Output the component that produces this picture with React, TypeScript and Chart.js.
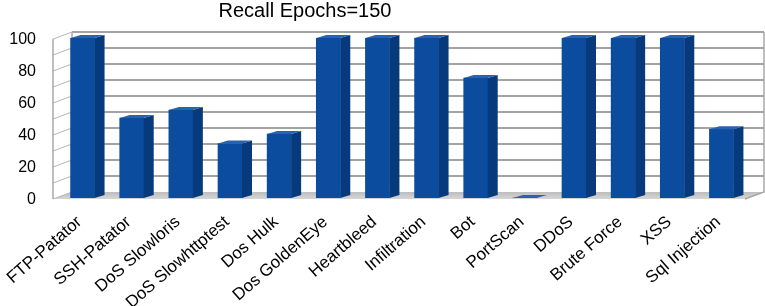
import React, { useEffect, useRef } from "react";
import { Chart, registerables } from "chart.js";

Chart.register(...registerables);

const TITLE = "Recall Epochs=150";
const categories = [
  "FTP-Patator",
  "SSH-Patator",
  "DoS Slowloris",
  "DoS Slowhttptest",
  "Dos Hulk",
  "Dos GoldenEye",
  "Heartbleed",
  "Infiltration",
  "Bot",
  "PortScan",
  "DDoS",
  "Brute Force",
  "XSS",
  "Sql Injection",
];
const recall = [100, 50, 55, 34, 40, 100, 100, 100, 75, 0, 100, 100, 100, 43];
const gridValues = [0, 10, 20, 30, 40, 50, 60, 70, 80, 90, 100];

const FONT = "'Liberation Sans', Arial, sans-serif";

const threeD = {
  id: "threeD",
  beforeDatasetsDraw(chart: any) {
    const { ctx, chartArea, scales } = chart;
    const y = scales.y;
    const fl = chartArea.left - 5;
    const fr = chartArea.right - 1;
    const dx = 19;
    const dy = 7;
    const fy = (v: number) => y.getPixelForValue(v) + 1;
    ctx.save();
    // floor
    const g = ctx.createLinearGradient(0, fy(0) - dy, 0, fy(0));
    g.addColorStop(0, "#bdbdbd");
    g.addColorStop(1, "#d6d6d6");
    ctx.fillStyle = g;
    ctx.beginPath();
    ctx.moveTo(fl, fy(0));
    ctx.lineTo(fl + dx, fy(0) - dy);
    ctx.lineTo(fr + dx, fy(0) - dy);
    ctx.lineTo(fr, fy(0));
    ctx.closePath();
    ctx.fill();
    // back wall grid lines
    ctx.strokeStyle = "#a3a3a3";
    ctx.lineWidth = 2;
    gridValues.forEach((v) => {
      if (v === 0) return;
      const by = Math.round(fy(v) - dy);
      ctx.beginPath();
      ctx.moveTo(fl + dx, by);
      ctx.lineTo(fr + dx, by);
      ctx.stroke();
    });
    // side wall grid lines
    ctx.strokeStyle = "#b5b5b5";
    ctx.lineWidth = 1;
    gridValues.forEach((v) => {
      ctx.beginPath();
      ctx.moveTo(fl, fy(v));
      ctx.lineTo(fl + dx, fy(v) - dy);
      ctx.stroke();
    });
    // edges
    ctx.strokeStyle = "#a8a8a8";
    ctx.lineWidth = 1.5;
    ctx.beginPath();
    ctx.moveTo(fl, fy(0));
    ctx.lineTo(fl, fy(100));
    ctx.stroke();
    ctx.beginPath();
    ctx.moveTo(fl + dx, fy(100) - dy);
    ctx.lineTo(fl + dx, fy(0) - dy);
    ctx.stroke();
    ctx.beginPath();
    ctx.moveTo(fr + dx, fy(100) - dy);
    ctx.lineTo(fr + dx, fy(0) - dy);
    ctx.lineTo(fr, fy(0));
    ctx.stroke();
    ctx.restore();
  },
  afterDatasetsDraw(chart: any) {
    const { ctx } = chart;
    const meta = chart.getDatasetMeta(0);
    const bdx = 10;
    const bdy = 3;
    ctx.save();
    meta.data.forEach((bar: any) => {
      const { x, y, base, width } = bar.getProps(["x", "y", "base", "width"], true);
      const l = x - width / 2;
      const r = x + width / 2;
      ctx.fillStyle = "#063a7c";
      ctx.beginPath();
      ctx.moveTo(r, y);
      ctx.lineTo(r + bdx, y - bdy);
      ctx.lineTo(r + bdx, base - bdy);
      ctx.lineTo(r, base);
      ctx.closePath();
      ctx.fill();
      ctx.fillStyle = "#2a62ae";
      ctx.beginPath();
      ctx.moveTo(l, y);
      ctx.lineTo(l + bdx, y - bdy);
      ctx.lineTo(r + bdx, y - bdy);
      ctx.lineTo(r, y);
      ctx.closePath();
      ctx.fill();
    });
    ctx.restore();
  },
  afterDraw(chart: any) {
    const { ctx } = chart;
    ctx.save();
    ctx.fillStyle = "#000";
    ctx.font = `20px ${FONT}`;
    ctx.textAlign = "center";
    ctx.textBaseline = "middle";
    ctx.fillText(TITLE, 305, 11);
    ctx.restore();
  },
};

export default function App() {
  const ref = useRef<HTMLCanvasElement | null>(null);
  useEffect(() => {
    document.body.style.margin = "0";
    const canvas = ref.current;
    if (!canvas) return;
    const chart = new Chart(canvas, {
      type: "bar",
      data: {
        labels: categories,
        datasets: [
          {
            data: recall,
            backgroundColor: "#0b4c9f",
            borderWidth: 0,
            barThickness: 24,
          },
        ],
      },
      options: {
        animation: false,
        responsive: true,
        maintainAspectRatio: false,
        layout: { padding: { left: 10, right: 19, top: 38, bottom: 0 } },
        plugins: {
          legend: { display: false },
          tooltip: { enabled: false },
          title: { display: false },
        },
        scales: {
          x: {
            grid: { display: false, drawTicks: false },
            border: { display: false },
            ticks: {
              autoSkip: false,
              minRotation: 41,
              maxRotation: 41,
              color: "#000",
              font: { family: FONT, size: 17 },
              padding: 14,
              labelOffset: -3,
            },
            afterFit: (s: any) => {
              s.height = 108;
              s.paddingLeft = 0;
              s.paddingRight = 0;
            },
          },
          y: {
            min: 0,
            max: 100,
            grid: { display: false, drawTicks: false },
            border: { display: false },
            ticks: {
              stepSize: 20,
              color: "#000",
              font: { family: FONT, size: 16 },
              padding: 22,
              labelOffset: 2,
            },
            afterFit: (s: any) => {
              s.width = 48;
              s.paddingTop = 0;
              s.paddingBottom = 0;
            },
          },
        },
      },
      plugins: [threeD],
    });
    return () => chart.destroy();
  }, []);
  return (
    <div style={{ position: "absolute", left: 0, top: 0, width: 765, height: 306 }}>
      <canvas ref={ref} />
    </div>
  );
}
